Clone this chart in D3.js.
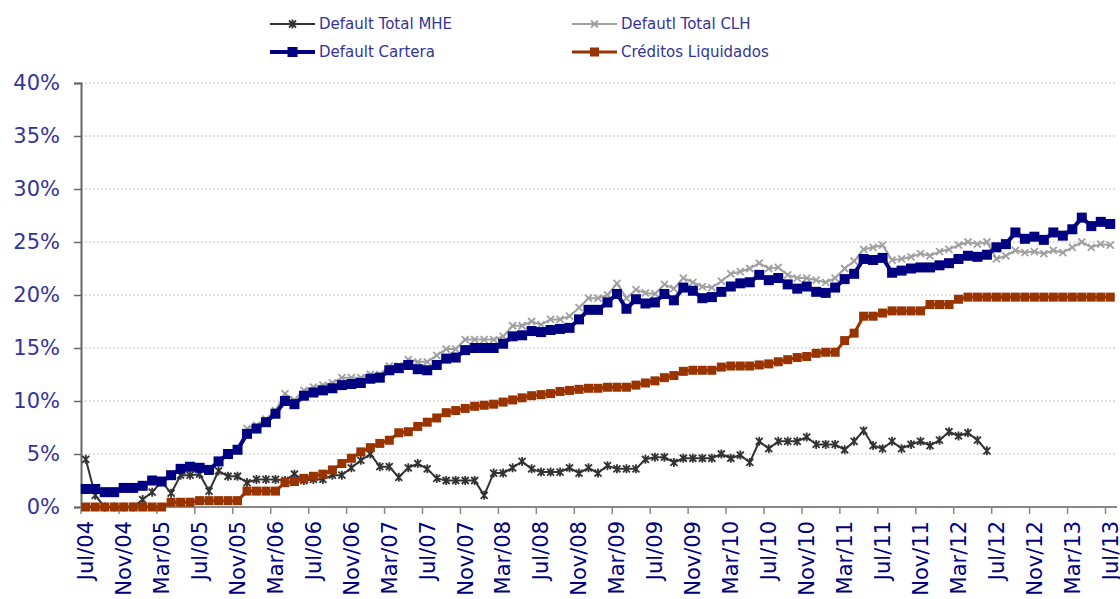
<html>
  <head>
    <meta charset="utf-8">
    <title>Default cartera</title>
    <style>
      body { margin: 0; background: #fff; }
      text { font-family: Verdana, 'DejaVu Sans', sans-serif; }
    </style>
  </head>
  <body>
    <script src="https://d3js.org/d3.v7.min.js"></script>
    <script>
      // meses (categorias)
      var months = [
        "Jul/04","Ago/04","Sep/04","Oct/04","Nov/04","Dic/04",
        "Ene/05","Feb/05","Mar/05","Abr/05","May/05","Jun/05","Jul/05","Ago/05","Sep/05","Oct/05","Nov/05","Dic/05",
        "Ene/06","Feb/06","Mar/06","Abr/06","May/06","Jun/06","Jul/06","Ago/06","Sep/06","Oct/06","Nov/06","Dic/06",
        "Ene/07","Feb/07","Mar/07","Abr/07","May/07","Jun/07","Jul/07","Ago/07","Sep/07","Oct/07","Nov/07","Dic/07",
        "Ene/08","Feb/08","Mar/08","Abr/08","May/08","Jun/08","Jul/08","Ago/08","Sep/08","Oct/08","Nov/08","Dic/08",
        "Ene/09","Feb/09","Mar/09","Abr/09","May/09","Jun/09","Jul/09","Ago/09","Sep/09","Oct/09","Nov/09","Dic/09",
        "Ene/10","Feb/10","Mar/10","Abr/10","May/10","Jun/10","Jul/10","Ago/10","Sep/10","Oct/10","Nov/10","Dic/10",
        "Ene/11","Feb/11","Mar/11","Abr/11","May/11","Jun/11","Jul/11","Ago/11","Sep/11","Oct/11","Nov/11","Dic/11",
        "Ene/12","Feb/12","Mar/12","Abr/12","May/12","Jun/12","Jul/12","Ago/12","Sep/12","Oct/12","Nov/12","Dic/12",
        "Ene/13","Feb/13","Mar/13","Abr/13","May/13","Jun/13","Jul/13"
      ];

      var tickLabels = ["Jul/04","Nov/04","Mar/05","Jul/05","Nov/05","Mar/06","Jul/06","Nov/06","Mar/07","Jul/07",
        "Nov/07","Mar/08","Jul/08","Nov/08","Mar/09","Jul/09","Nov/09","Mar/10","Jul/10","Nov/10",
        "Mar/11","Jul/11","Nov/11","Mar/12","Jul/12","Nov/12","Mar/13","Jul/13"];

      var yTicks = [0, 5, 10, 15, 20, 25, 30, 35, 40];

      // valores en %
      var mhe = [4.5,1.1,0,0,0,0, 0.7,1.4,2.4,1.3,3.0,3.0,3.1,1.5,3.4,2.9,2.9,2.3,
        2.6,2.6,2.6,2.5,3.1,2.5,2.6,2.6,3.0,3.0,3.7,4.4,
        5.0,3.8,3.8,2.8,3.7,4.1,3.6,2.7,2.5,2.5,2.5,2.5,
        1.1,3.2,3.2,3.7,4.3,3.6,3.3,3.3,3.3,3.7,3.2,3.7,
        3.2,3.9,3.6,3.6,3.6,4.5,4.7,4.7,4.2,4.6,4.6,4.6,
        4.6,5.0,4.6,4.9,4.2,6.2,5.5,6.2,6.2,6.2,6.6,5.9,
        5.9,5.9,5.4,6.2,7.2,5.8,5.5,6.2,5.5,5.9,6.2,5.8,
        6.3,7.1,6.7,7.0,6.3,5.3,null,null,null,null,null,null,
        null,null,null,null,null,null,null];

      var clh = [1.7,1.7,1.4,1.4,1.8,1.8, 2.0,2.5,2.4,3.0,3.6,3.8,3.7,3.5,4.3,5.0,5.4,7.4,
        7.7,8.3,9.1,10.7,10.1,11.0,11.3,11.5,11.7,12.2,12.2,12.2,
        12.5,12.5,13.3,13.3,13.9,13.7,13.7,14.3,14.9,14.9,15.8,15.8,
        15.8,15.8,16.1,17.1,17.1,17.5,17.2,17.7,17.7,18.0,18.8,19.7,
        19.7,20.0,21.1,19.7,20.5,20.2,20.1,21.0,20.6,21.6,21.2,20.8,
        20.7,21.3,22.0,22.2,22.5,23.0,22.5,22.6,21.9,21.6,21.6,21.4,
        21.2,21.6,22.5,23.2,24.3,24.5,24.7,23.3,23.4,23.6,23.9,23.7,
        24.1,24.3,24.7,25.0,24.8,25.0,23.4,23.7,24.2,24.0,24.1,23.9,
        24.2,24.0,24.5,25.0,24.5,24.8,24.7];

      var cartera = [1.7,1.7,1.4,1.4,1.8,1.8, 2.0,2.5,2.4,3.0,3.6,3.8,3.7,3.5,4.3,5.0,5.4,6.9,
        7.4,8.0,8.8,10.0,9.7,10.5,10.8,11.0,11.2,11.5,11.6,11.7,
        12.1,12.2,12.9,13.1,13.4,13.0,12.9,13.4,14.0,14.1,14.8,15.0,
        15.0,15.0,15.4,16.1,16.2,16.6,16.5,16.7,16.8,16.9,17.7,18.6,
        18.6,19.3,20.1,18.7,19.6,19.2,19.3,20.1,19.5,20.7,20.4,19.7,
        19.8,20.3,20.8,21.1,21.2,21.9,21.4,21.6,21.0,20.6,20.8,20.3,
        20.2,20.7,21.5,22.0,23.4,23.3,23.5,22.1,22.3,22.5,22.6,22.6,
        22.8,23.0,23.4,23.7,23.6,23.8,24.5,24.8,25.9,25.3,25.5,25.2,
        25.9,25.6,26.2,27.3,26.5,26.9,26.7];

      var creditos = [0,0,0,0,0,0, 0,0,0,0.45,0.45,0.45,0.6,0.6,0.6,0.6,0.6,1.5,
        1.5,1.5,1.5,2.3,2.4,2.7,2.9,3.1,3.5,4.1,4.6,5.2,
        5.6,6.0,6.3,7.0,7.1,7.6,8.0,8.4,8.9,9.1,9.3,9.5,
        9.6,9.7,9.9,10.1,10.3,10.5,10.6,10.7,10.9,11.0,11.1,11.2,
        11.2,11.3,11.3,11.3,11.5,11.7,11.9,12.2,12.4,12.8,12.9,12.9,
        12.9,13.2,13.3,13.3,13.3,13.4,13.5,13.7,13.9,14.1,14.2,14.5,
        14.6,14.6,15.7,16.4,18.0,18.0,18.3,18.5,18.5,18.5,18.5,19.1,
        19.1,19.1,19.6,19.8,19.8,19.8,19.8,19.8,19.8,19.8,19.8,19.8,
        19.8,19.8,19.8,19.8,19.8,19.8,19.8];

      var width = 1120;
      var height = 599;

      var svg = d3.select("body")
        .append("svg")
        .attr("width", width)
        .attr("height", height);

      var x = d3.scaleBand().domain(months).range([81, 1115]);
      var bw = x.bandwidth();
      var y = d3.scaleLinear().domain([0, 40]).range([507, 83]);

      function cx(i) { return x(months[i]) + bw / 2; }

      // lineas de grilla
      svg.selectAll(".grid")
        .data(yTicks.filter(function(d) { return d > 0; }))
        .enter()
        .append("line")
        .attr("x1", 81).attr("x2", 1115)
        .attr("y1", function(d) { return y(d); })
        .attr("y2", function(d) { return y(d); })
        .attr("stroke", "#c0c0c0")
        .attr("stroke-dasharray", "2,2");

      // eje Y
      var yAxis = svg.append("g")
        .attr("transform", "translate(81,0)")
        .call(d3.axisLeft(y).tickValues(yTicks).tickSize(7).tickPadding(14)
          .tickFormat(function(d) { return d + "%"; }));
      yAxis.select(".domain").attr("stroke", "#666").attr("stroke-width", 2);
      yAxis.selectAll(".tick line").attr("stroke", "#666").attr("stroke-width", 1.5);
      yAxis.selectAll(".tick text")
        .attr("font-size", 21)
        .attr("fill", "#333399")
        .attr("font-family", "Verdana, 'DejaVu Sans', sans-serif");

      // eje X
      svg.append("line")
        .attr("x1", 81).attr("x2", 1117)
        .attr("y1", y(0)).attr("y2", y(0))
        .attr("stroke", "#888").attr("stroke-width", 2);

      svg.selectAll(".xtick")
        .data(tickLabels)
        .enter()
        .append("line")
        .attr("x1", function(d) { return x(d); })
        .attr("x2", function(d) { return x(d); })
        .attr("y1", y(0)).attr("y2", y(0) + 7)
        .attr("stroke", "#888").attr("stroke-width", 1.5);

      svg.selectAll(".xlabel")
        .data(tickLabels)
        .enter()
        .append("text")
        .attr("transform", function(d) {
          return "translate(" + (x(d) + bw / 2) + "," + (y(0) + 14) + ") rotate(-90)";
        })
        .attr("text-anchor", "end")
        .attr("dy", "0.35em")
        .attr("font-size", 21)
        .attr("fill", "#000080")
        .text(function(d) { return d; });

      // series
      var series = [
        { name: "Default Total MHE", values: mhe, color: "#333333", width: 2, marker: "star", lx: 270, ly: 24 },
        { name: "Defautl Total CLH", values: clh, color: "#a0a0a0", width: 2, marker: "x", lx: 572, ly: 24 },
        { name: "Default Cartera", values: cartera, color: "#000080", width: 4, marker: "square", size: 10, lx: 270, ly: 52 },
        { name: "Créditos Liquidados", values: creditos, color: "#993300", width: 3, marker: "square", size: 9, lx: 572, ly: 52 }
      ];

      function drawMarker(g, s) {
        if (s.marker == "square") {
          g.append("rect")
            .attr("x", -s.size / 2).attr("y", -s.size / 2)
            .attr("width", s.size).attr("height", s.size)
            .attr("fill", s.color);
        } else if (s.marker == "x") {
          g.append("path")
            .attr("d", "M-3.5,-3.5L3.5,3.5M-3.5,3.5L3.5,-3.5")
            .attr("stroke", s.color).attr("stroke-width", 1.8).attr("fill", "none");
        } else {
          g.append("path")
            .attr("d", "M-3.5,-3.5L3.5,3.5M-3.5,3.5L3.5,-3.5M0,-4.5L0,4.5")
            .attr("stroke", s.color).attr("stroke-width", 1.8).attr("fill", "none");
        }
      }

      var line = d3.line()
        .defined(function(d) { return d != null; })
        .x(function(d, i) { return cx(i); })
        .y(function(d) { return y(d); });

      series.forEach(function(s) {
        var g = svg.append("g");
        g.append("path")
          .attr("d", line(s.values))
          .attr("fill", "none")
          .attr("stroke", s.color)
          .attr("stroke-width", s.width)
          .attr("stroke-linejoin", "round");
        s.values.forEach(function(v, i) {
          if (v == null) return;
          var m = g.append("g").attr("transform", "translate(" + cx(i) + "," + y(v) + ")");
          drawMarker(m, s);
        });
      });

      // leyenda
      series.forEach(function(s) {
        var g = svg.append("g").attr("transform", "translate(" + s.lx + "," + s.ly + ")");
        g.append("line")
          .attr("x1", 0).attr("x2", 45)
          .attr("stroke", s.color).attr("stroke-width", s.width);
        drawMarker(g.append("g").attr("transform", "translate(22.5,0)"), s);
        g.append("text")
          .attr("x", 49)
          .attr("dy", "0.36em")
          .attr("font-size", 15)
          .attr("fill", "#333399")
          .text(s.name);
      });
    </script>
  </body>
</html>
